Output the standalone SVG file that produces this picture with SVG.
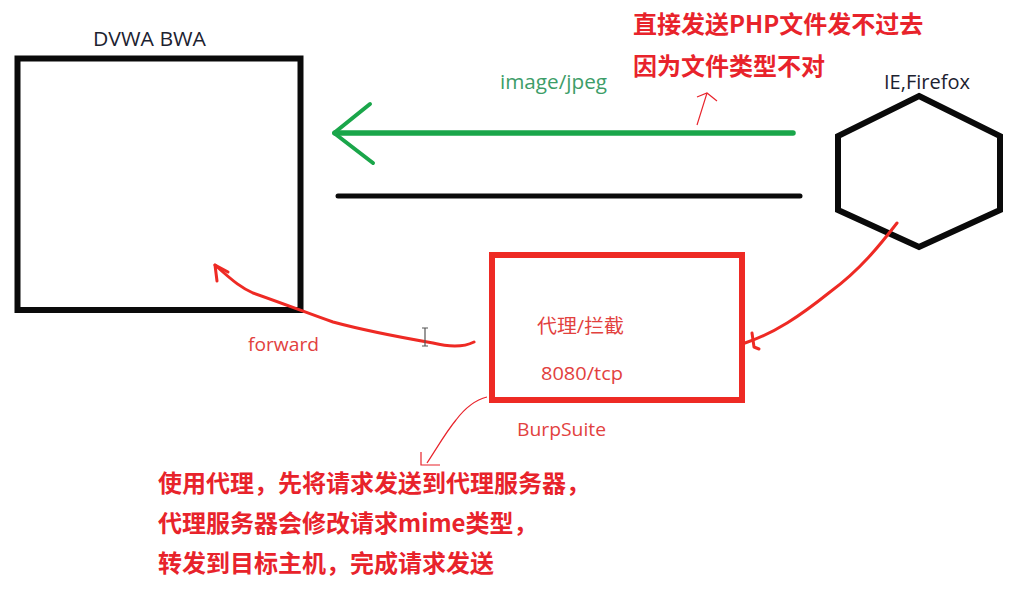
<svg xmlns="http://www.w3.org/2000/svg" width="1031" height="598" viewBox="0 0 1031 598">
<style>
.lbl{font-family:"Open Sans","Noto Sans CJK SC",sans-serif;}
.dark{fill:#1c2230;font-size:20px;}
.red{fill:#e2413e;font-size:19px;}
.note{font-family:"Noto Sans CJK SC","Noto Sans",sans-serif;font-weight:bold;font-size:24px;fill:#e8232b;}
.box{fill:none;stroke:#0a0a0a;stroke-width:6;}
.rbox{fill:none;stroke:#ee2a24;stroke-width:6;}
.rc{fill:none;stroke:#ee2a24;stroke-width:3;stroke-linecap:round;stroke-linejoin:round;}
.thin{fill:none;stroke:#e8232b;stroke-width:1.2;}
</style>
<rect width="1031" height="598" fill="#ffffff"/>

<g id="dvwa">
<rect class="box" x="17.5" y="58.5" width="283" height="251.5"/>
<text class="lbl dark" x="93" y="46" textLength="113" lengthAdjust="spacingAndGlyphs">DVWA BWA</text>
</g>

<g id="browser">
<polygon class="box" points="919,96 1000,136 1000,210 919,247 838,210 838,136"/>
<text class="lbl dark" x="884" y="89" textLength="86" lengthAdjust="spacingAndGlyphs">IE,Firefox</text>
</g>

<g id="burp">
<rect class="rbox" x="492" y="255" width="250" height="145"/>
<text class="lbl red" x="537" y="333" textLength="87" lengthAdjust="spacingAndGlyphs">代理/拦截</text>
<text class="lbl red" x="541" y="380" textLength="82" lengthAdjust="spacingAndGlyphs">8080/tcp</text>
<text class="lbl red" x="517" y="436" textLength="89" lengthAdjust="spacingAndGlyphs">BurpSuite</text>
</g>

<g id="connectors">
<line x1="335" y1="133" x2="793" y2="133" stroke="#1aa64a" stroke-width="5.5" stroke-linecap="round"/>
<polyline points="370,104 334,133 373,163" fill="none" stroke="#1aa64a" stroke-width="4" stroke-linecap="round" stroke-linejoin="round"/>
<text class="lbl" x="500" y="89" font-size="20" fill="#3d9d68" textLength="107" lengthAdjust="spacingAndGlyphs">image/jpeg</text>
<line x1="338" y1="196" x2="800" y2="196" stroke="#0a0a0a" stroke-width="5" stroke-linecap="round"/>

<path class="rc" d="M897,223 C880,245 860,270 830,292 C800,316 775,333 745,343"/>
<path class="rc" d="M752,333 L754,347 L759,349"/>

<path class="rc" d="M474,342 C462,348 445,346 433,343 C410,339 370,332 333,322 C310,314 290,306 253,293 C242,288 235,283 215,265"/>
<path class="rc" d="M217,281 L215,265 L228,272"/>
<text class="lbl red" x="248" y="351" textLength="71" lengthAdjust="spacingAndGlyphs">forward</text>

<path class="thin" d="M487,397 C475,400 465,408 456,420 C446,432 437,448 427,463"/>
<path class="thin" d="M421,452 L421,465 L440,465"/>

<path class="thin" d="M697,125 L707,93"/>
<path class="thin" d="M697,97 L707,93 L717,101"/>

<g stroke="#555" stroke-width="1.2" fill="none">
<path d="M422,328 L428,328 M425,328 L425,346 M422,346 L428,346"/>
</g>
</g>

<g id="notes">
<text class="note" x="633" y="33">直接发送PHP文件发不过去</text>
<text class="note" x="633" y="75">因为文件类型不对</text>
<text class="note" x="158" y="492">使用代理，先将请求发送到代理服务器，</text>
<text class="note" x="158" y="532">代理服务器会修改请求mime类型，</text>
<text class="note" x="158" y="572">转发到目标主机，完成请求发送</text>
</g>
</svg>
